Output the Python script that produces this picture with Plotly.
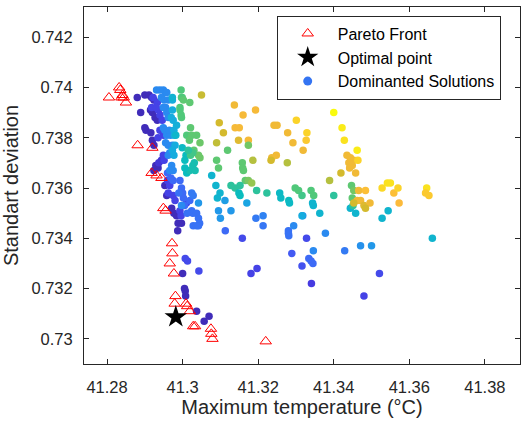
import plotly.graph_objects as go

# ---------------- data ----------------
pareto_x = [41.2805, 41.2832, 41.2835, 41.2841, 41.2838, 41.2844, 41.2850,
            41.2881, 41.2920, 41.2918, 41.2931, 41.2944, 41.2949, 41.2955,
            41.2972, 41.2973, 41.2966, 41.2977, 41.2981, 41.2979, 41.3009,
            41.3012, 41.3019, 41.3028, 41.3033, 41.3075, 41.3076, 41.3079,
            41.3220]
pareto_y = [0.7396, 0.7400, 0.7399, 0.7397, 0.7396, 0.7396, 0.7394,
            0.7377, 0.7376, 0.7366, 0.7365, 0.7364, 0.7352, 0.7351,
            0.7338, 0.7334, 0.7330, 0.7326, 0.7317, 0.7314, 0.7314,
            0.7313, 0.7311, 0.7305, 0.7305, 0.7304, 0.7302, 0.7300,
            0.7299]

optimal_x = [41.2982]
optimal_y = [0.73087]

dom_x = [
    # navy
    41.2880, 41.2900, 41.2911, 41.2918, 41.2924, 41.2889, 41.2915, 41.2920, 41.2927, 41.2933,
    41.2900, 41.2903, 41.2916, 41.2920, 41.2924, 41.2929, 41.2935, 41.2924, 41.2953, 41.2958,
    41.2971, 41.2977, 41.2984, 41.2988, 41.2987, 41.2997, 41.3000, 41.3005, 41.3007, 41.3008,
    41.3037, 41.3057, 41.3070, 41.2944, 41.2937,
    # violet
    41.2922, 41.2933, 41.2918, 41.2936, 41.2930, 41.2940, 41.2946, 41.2940, 41.2949, 41.2935,
    41.2949, 41.2951, 41.2960, 41.2966, 41.2962, 41.2975, 41.2980, 41.2993, 41.2996, 41.3010,
    41.3007, 41.3013, 41.3043, 41.3181, 41.3197, 41.3341, 41.3480, 41.3521, 41.3328, 41.3158,
    41.3316, 41.3289,
    # blue (left cluster)
    41.2960, 41.2969, 41.2975, 41.2993, 41.2997, 41.3000, 41.3002, 41.3005, 41.3019, 41.3024,
    41.3027, 41.3037, 41.3042, 41.3045, 41.3028, 41.3037, 41.3042, 41.3024, 41.3028, 41.2990,
    41.3012, 41.2997, 41.3042,
    # blue (right)
    41.3113, 41.3194, 41.3213, 41.3213, 41.3280, 41.3281, 41.3280, 41.3294, 41.3318, 41.3334,
    41.3340, 41.3345, 41.3346, 41.3378, 41.3429, 41.3471, 41.3500, 41.3095, 41.3100, 41.3128,
    41.3112, 41.3170,
    # light blue band
    41.2931, 41.2940, 41.2949, 41.2955, 41.2944, 41.2951, 41.2955, 41.2958, 41.2962, 41.2949,
    41.2953, 41.2958, 41.2955, 41.2962, 41.2966, 41.2973, 41.2962, 41.2971, 41.2975, 41.2966,
    41.2958, 41.2962, 41.2949, 41.2968, 41.2965,
    # cyan-blue
    41.2973, 41.2973, 41.2975, 41.2977, 41.2978, 41.2980, 41.2973, 41.2977, 41.2970, 41.2984,
    # cyan / teal
    41.2982, 41.2999, 41.3009, 41.3006, 41.3011, 41.3019, 41.3027, 41.3031, 41.3033, 41.3006,
    41.2973,
    # green column
    41.2996, 41.2999, 41.2997, 41.3002, 41.3019, 41.2993, 41.2993, 41.2996, 41.2997, 41.3021,
    41.3011, 41.3018, 41.3024, 41.3037, 41.3046, 41.3030, 41.3042, 41.3046, 41.3021, 41.3027,
    41.3015, 41.3050,
    # middle upper orange / olive / green
    41.3137, 41.3160, 41.3193, 41.3097, 41.3108, 41.3139, 41.3150, 41.3090, 41.3148, 41.3174,
    41.3174, 41.3119, 41.3090, 41.3095, 41.3158, 41.3159, 41.3161, 41.3186, 41.3236, 41.3248,
    41.3234, 41.3277, 41.3242, 41.3250, 41.3278, 41.3292, 41.3301, 41.3329, 41.3327, 41.3319,
    # middle teal row
    41.3166, 41.3174, 41.3183, 41.3196, 41.3152, 41.3139, 41.3128, 41.3149, 41.3152, 41.3223,
    41.3257, 41.3260, 41.3281, 41.3283, 41.3298, 41.3307, 41.3316, 41.3340, 41.3347, 41.3346,
    41.3344, 41.3363, 41.3316, 41.3400, 41.3389,
    # left-middle cyan
    41.3077, 41.3088, 41.3092, 41.3099,
    # right cluster
    41.3444, 41.3458, 41.3449, 41.3447, 41.3453, 41.3451, 41.3462, 41.3471, 41.3480, 41.3466,
    41.3484, 41.3496, 41.3484, 41.3453, 41.3528, 41.3542, 41.3550, 41.3559, 41.3570, 41.3573,
    41.3646, 41.3643, 41.3652, 41.3528, 41.3544, 41.3661,
    # orange cluster upper right
    41.3435, 41.3444, 41.3453, 41.3449, 41.3440, 41.3458, 41.3419, 41.3462, 41.3464, 41.3442,
    # yellow top
    41.3400, 41.3422, 41.3428,
]
dom_y = [
    # navy
    0.7396, 0.7397, 0.7397, 0.7396, 0.7395, 0.7390, 0.7391, 0.7390, 0.7388, 0.7387,
    0.7384, 0.7383, 0.7382, 0.7379, 0.7377, 0.7369, 0.7368, 0.7367, 0.7361, 0.7357,
    0.7352, 0.7350, 0.7349, 0.7346, 0.7343, 0.7346, 0.7326, 0.7320, 0.7319, 0.7317,
    0.7311, 0.7307, 0.7309, 0.7371, 0.7370,
    # violet
    0.7396, 0.7394, 0.7392, 0.7391, 0.7392, 0.7389, 0.7387, 0.7383, 0.7381, 0.7380,
    0.7373, 0.7371, 0.7363, 0.7361, 0.7358, 0.7357, 0.7355, 0.7351, 0.7349, 0.7354,
    0.7332, 0.7331, 0.7327, 0.7326, 0.7328, 0.7322, 0.7317, 0.7326, 0.7340, 0.7340,
    0.7329, 0.7334,
    # blue (left cluster)
    0.7366, 0.7364, 0.7363, 0.7363, 0.7360, 0.7358, 0.7356, 0.7353, 0.7355, 0.7351,
    0.7350, 0.7350, 0.7348, 0.7346, 0.7345, 0.7345, 0.7345, 0.7358, 0.7357, 0.7358,
    0.7350, 0.7353, 0.7354,
    # blue (right)
    0.7343, 0.7348, 0.7345, 0.7349, 0.7343, 0.7341, 0.7342, 0.7345, 0.7349, 0.7332,
    0.7331, 0.7330, 0.7335, 0.7342, 0.7335, 0.7337, 0.7337, 0.7351, 0.7348, 0.7351,
    0.7355, 0.7354,
    # light blue band
    0.7399, 0.7399, 0.7399, 0.7398, 0.7396, 0.7395, 0.7392, 0.7390, 0.7388, 0.7384,
    0.7383, 0.7381, 0.7378, 0.7377, 0.7374, 0.7377, 0.7373, 0.7369, 0.7367, 0.7367,
    0.7398, 0.7395, 0.7392, 0.7381, 0.7383,
    # cyan-blue
    0.7395, 0.7391, 0.7387, 0.7383, 0.7381, 0.7377, 0.7375, 0.7373, 0.7388, 0.7385,
    # cyan / teal
    0.7381, 0.7376, 0.7373, 0.7371, 0.7366, 0.7367, 0.7369, 0.7370, 0.7367, 0.7368,
    0.7396,
    # green column
    0.7399, 0.7396, 0.7396, 0.7395, 0.7394, 0.7392, 0.7391, 0.7389, 0.7388, 0.7384,
    0.7381, 0.7379, 0.7381, 0.7381, 0.7378, 0.7375, 0.7373, 0.7372, 0.7373, 0.7374,
    0.7375, 0.7397,
    # middle upper orange / olive / green
    0.7393, 0.7389, 0.7391, 0.7386, 0.7382, 0.7384, 0.7384, 0.7378, 0.7379, 0.7379,
    0.7377, 0.7375, 0.7371, 0.7368, 0.7370, 0.7368, 0.7367, 0.7371, 0.7372, 0.7373,
    0.7371, 0.7370, 0.7385, 0.7385, 0.7382, 0.7378, 0.7387, 0.7382, 0.7379, 0.7375,
    # middle teal row
    0.7363, 0.7363, 0.7362, 0.7359, 0.7361, 0.7360, 0.7361, 0.7358, 0.7357, 0.7358,
    0.7358, 0.7356, 0.7355, 0.7354, 0.7360, 0.7359, 0.7357, 0.7359, 0.7357, 0.7353,
    0.7354, 0.7350, 0.7349, 0.7357, 0.7363,
    # left-middle cyan
    0.7365, 0.7361, 0.7356, 0.7358,
    # right cluster
    0.7352, 0.7350, 0.7356, 0.7361, 0.7359, 0.7353, 0.7355, 0.7355, 0.7353, 0.7359,
    0.7359, 0.7354, 0.7352, 0.7354, 0.7360, 0.7362, 0.7362, 0.7358, 0.7360, 0.7354,
    0.7360, 0.7358, 0.7357, 0.7348, 0.7351, 0.7340,
    # orange cluster upper right
    0.7373, 0.7372, 0.7371, 0.7369, 0.7370, 0.7366, 0.7366, 0.7375, 0.7371, 0.7368,
    # yellow top
    0.7390, 0.7384, 0.7379,
]
dom_c = [
    # navy
    0.03, 0.03, 0.03, 0.03, 0.03, 0.03, 0.03, 0.03, 0.03, 0.03,
    0.03, 0.03, 0.03, 0.03, 0.03, 0.03, 0.03, 0.03, 0.03, 0.03,
    0.03, 0.03, 0.03, 0.03, 0.03, 0.03, 0.03, 0.03, 0.03, 0.03,
    0.03, 0.03, 0.03, 0.08, 0.08,
    # violet
    0.12, 0.12, 0.12, 0.12, 0.12, 0.12, 0.12, 0.12, 0.12, 0.12,
    0.12, 0.12, 0.12, 0.12, 0.12, 0.12, 0.12, 0.12, 0.12, 0.12,
    0.14, 0.14, 0.14, 0.12, 0.12, 0.1, 0.12, 0.14, 0.14, 0.14,
    0.16, 0.18,
    # blue (left cluster)
    0.22, 0.22, 0.22, 0.22, 0.22, 0.22, 0.22, 0.22, 0.22, 0.24,
    0.24, 0.24, 0.24, 0.24, 0.24, 0.24, 0.24, 0.26, 0.26, 0.24,
    0.24, 0.3, 0.34,
    # blue (right)
    0.22, 0.26, 0.25, 0.28, 0.24, 0.24, 0.24, 0.3, 0.32, 0.22,
    0.22, 0.22, 0.3, 0.3, 0.26, 0.32, 0.34, 0.34, 0.34, 0.34,
    0.36, 0.38,
    # light blue band
    0.3, 0.3, 0.3, 0.3, 0.3, 0.3, 0.3, 0.3, 0.3, 0.3,
    0.3, 0.3, 0.3, 0.3, 0.3, 0.3, 0.3, 0.3, 0.3, 0.3,
    0.3, 0.3, 0.3, 0.3, 0.3,
    # cyan-blue
    0.4, 0.4, 0.4, 0.4, 0.4, 0.4, 0.4, 0.4, 0.4, 0.42,
    # cyan / teal
    0.46, 0.48, 0.5, 0.5, 0.5, 0.52, 0.52, 0.52, 0.52, 0.5,
    0.44,
    # green column
    0.6, 0.6, 0.6, 0.62, 0.62, 0.6, 0.6, 0.6, 0.6, 0.62,
    0.6, 0.62, 0.62, 0.62, 0.64, 0.62, 0.64, 0.64, 0.58, 0.58,
    0.55, 0.78,
    # middle upper orange / olive / green
    0.85, 0.86, 0.86, 0.8, 0.8, 0.86, 0.86, 0.77, 0.82, 0.86,
    0.65, 0.62, 0.62, 0.62, 0.62, 0.62, 0.62, 0.75, 0.85, 0.85,
    0.8, 0.75, 0.85, 0.85, 0.85, 0.85, 0.92, 0.92, 0.9, 0.85,
    # middle teal row
    0.62, 0.66, 0.7, 0.55, 0.55, 0.55, 0.55, 0.5, 0.5, 0.55,
    0.48, 0.48, 0.5, 0.48, 0.6, 0.6, 0.58, 0.6, 0.6, 0.45,
    0.45, 0.45, 0.4, 0.55, 0.75,
    # left-middle cyan
    0.45, 0.45, 0.45, 0.45,
    # right cluster
    0.45, 0.45, 0.62, 0.62, 0.65, 0.55, 0.85, 0.85, 0.82, 0.85,
    0.88, 0.85, 0.8, 0.8, 0.93, 0.95, 0.95, 0.88, 0.92, 0.87,
    0.95, 0.9, 0.9, 0.45, 0.45, 0.45,
    # orange cluster upper right
    0.85, 0.85, 0.85, 0.85, 0.85, 0.85, 0.8, 0.97, 0.92, 0.85,
    # yellow top
    1.0, 0.97, 0.95,
]

x_ticks = [41.28, 41.30, 41.32, 41.34, 41.36, 41.38]
x_tick_labels = ["41.28", "41.3", "41.32", "41.34", "41.36", "41.38"]
y_ticks = [0.730, 0.732, 0.734, 0.736, 0.738, 0.740, 0.742]
y_tick_labels = ["0.73", "0.732", "0.734", "0.736", "0.738", "0.74", "0.742"]

# parula-like colormap
parula = [
    [0.00, "rgb(62,38,168)"],
    [0.10, "rgb(70,58,225)"],
    [0.20, "rgb(66,98,248)"],
    [0.30, "rgb(42,138,240)"],
    [0.40, "rgb(22,172,222)"],
    [0.50, "rgb(10,188,190)"],
    [0.60, "rgb(80,200,122)"],
    [0.70, "rgb(150,198,80)"],
    [0.80, "rgb(212,186,45)"],
    [0.87, "rgb(252,186,58)"],
    [1.00, "rgb(249,251,14)"],
]

FONT = "Liberation Sans, Arial, Helvetica, sans-serif"
DARK = "#262626"

fig = go.Figure()

fig.add_trace(go.Scatter(
    x=dom_x, y=dom_y, mode="markers", showlegend=False,
    marker=dict(size=7.5, color=dom_c, colorscale=parula, cmin=0, cmax=1,
                line=dict(width=0)),
    hoverinfo="skip",
))

fig.add_trace(go.Scatter(
    x=pareto_x, y=pareto_y, mode="markers", name="Pareto Front",
    marker=dict(symbol="triangle-up-open", size=10, color="red",
                line=dict(width=1, color="red")),
    legendrank=1,
))

fig.add_trace(go.Scatter(
    x=optimal_x, y=optimal_y, mode="markers", name="Optimal point",
    marker=dict(symbol="star", size=17, color="black", line=dict(width=0)),
    legendrank=2,
))

# legend entry for the dominated solutions
fig.add_trace(go.Scatter(
    x=[None], y=[None], mode="markers", name="Dominanted Solutions",
    marker=dict(size=9, color="rgb(52,116,242)"),
    legendrank=3,
))

axis_common = dict(
    showline=True, linecolor=DARK, linewidth=1, mirror="ticks",
    ticks="inside", ticklen=5, tickcolor=DARK, tickwidth=1,
    showgrid=False, zeroline=False, automargin=False,
    tickfont=dict(family=FONT, size=16.5, color=DARK),
)

fig.update_layout(
    width=521, height=421,
    margin=dict(l=84, r=1, t=7, b=57),
    paper_bgcolor="white", plot_bgcolor="white",
    font=dict(family=FONT, color=DARK),
    xaxis=dict(
        range=[41.2739, 41.3893], tickvals=x_ticks, ticktext=x_tick_labels,
        title=dict(text="Maximum temperature (°C)", font=dict(family=FONT, size=20, color=DARK),
                   standoff=4),
        ticklabelstandoff=8,
        **axis_common,
    ),
    yaxis=dict(
        range=[0.7290, 0.7432], tickvals=y_ticks, ticktext=y_tick_labels,
        title=dict(text="Standart deviation", font=dict(family=FONT, size=20, color=DARK),
                   standoff=8),
        ticklabelstandoff=7,
        **axis_common,
    ),
    legend=dict(
        x=0.442, y=0.976, xanchor="left", yanchor="top",
        bgcolor="white", bordercolor=DARK, borderwidth=1,
        font=dict(family=FONT, size=16, color="black"),
        itemwidth=50, tracegroupgap=0,
    ),
)

fig.write_html(
    "out.html",
    config={"displayModeBar": False},
    post_script="document.body.style.margin='0px';document.body.style.overflow='hidden';",
)
